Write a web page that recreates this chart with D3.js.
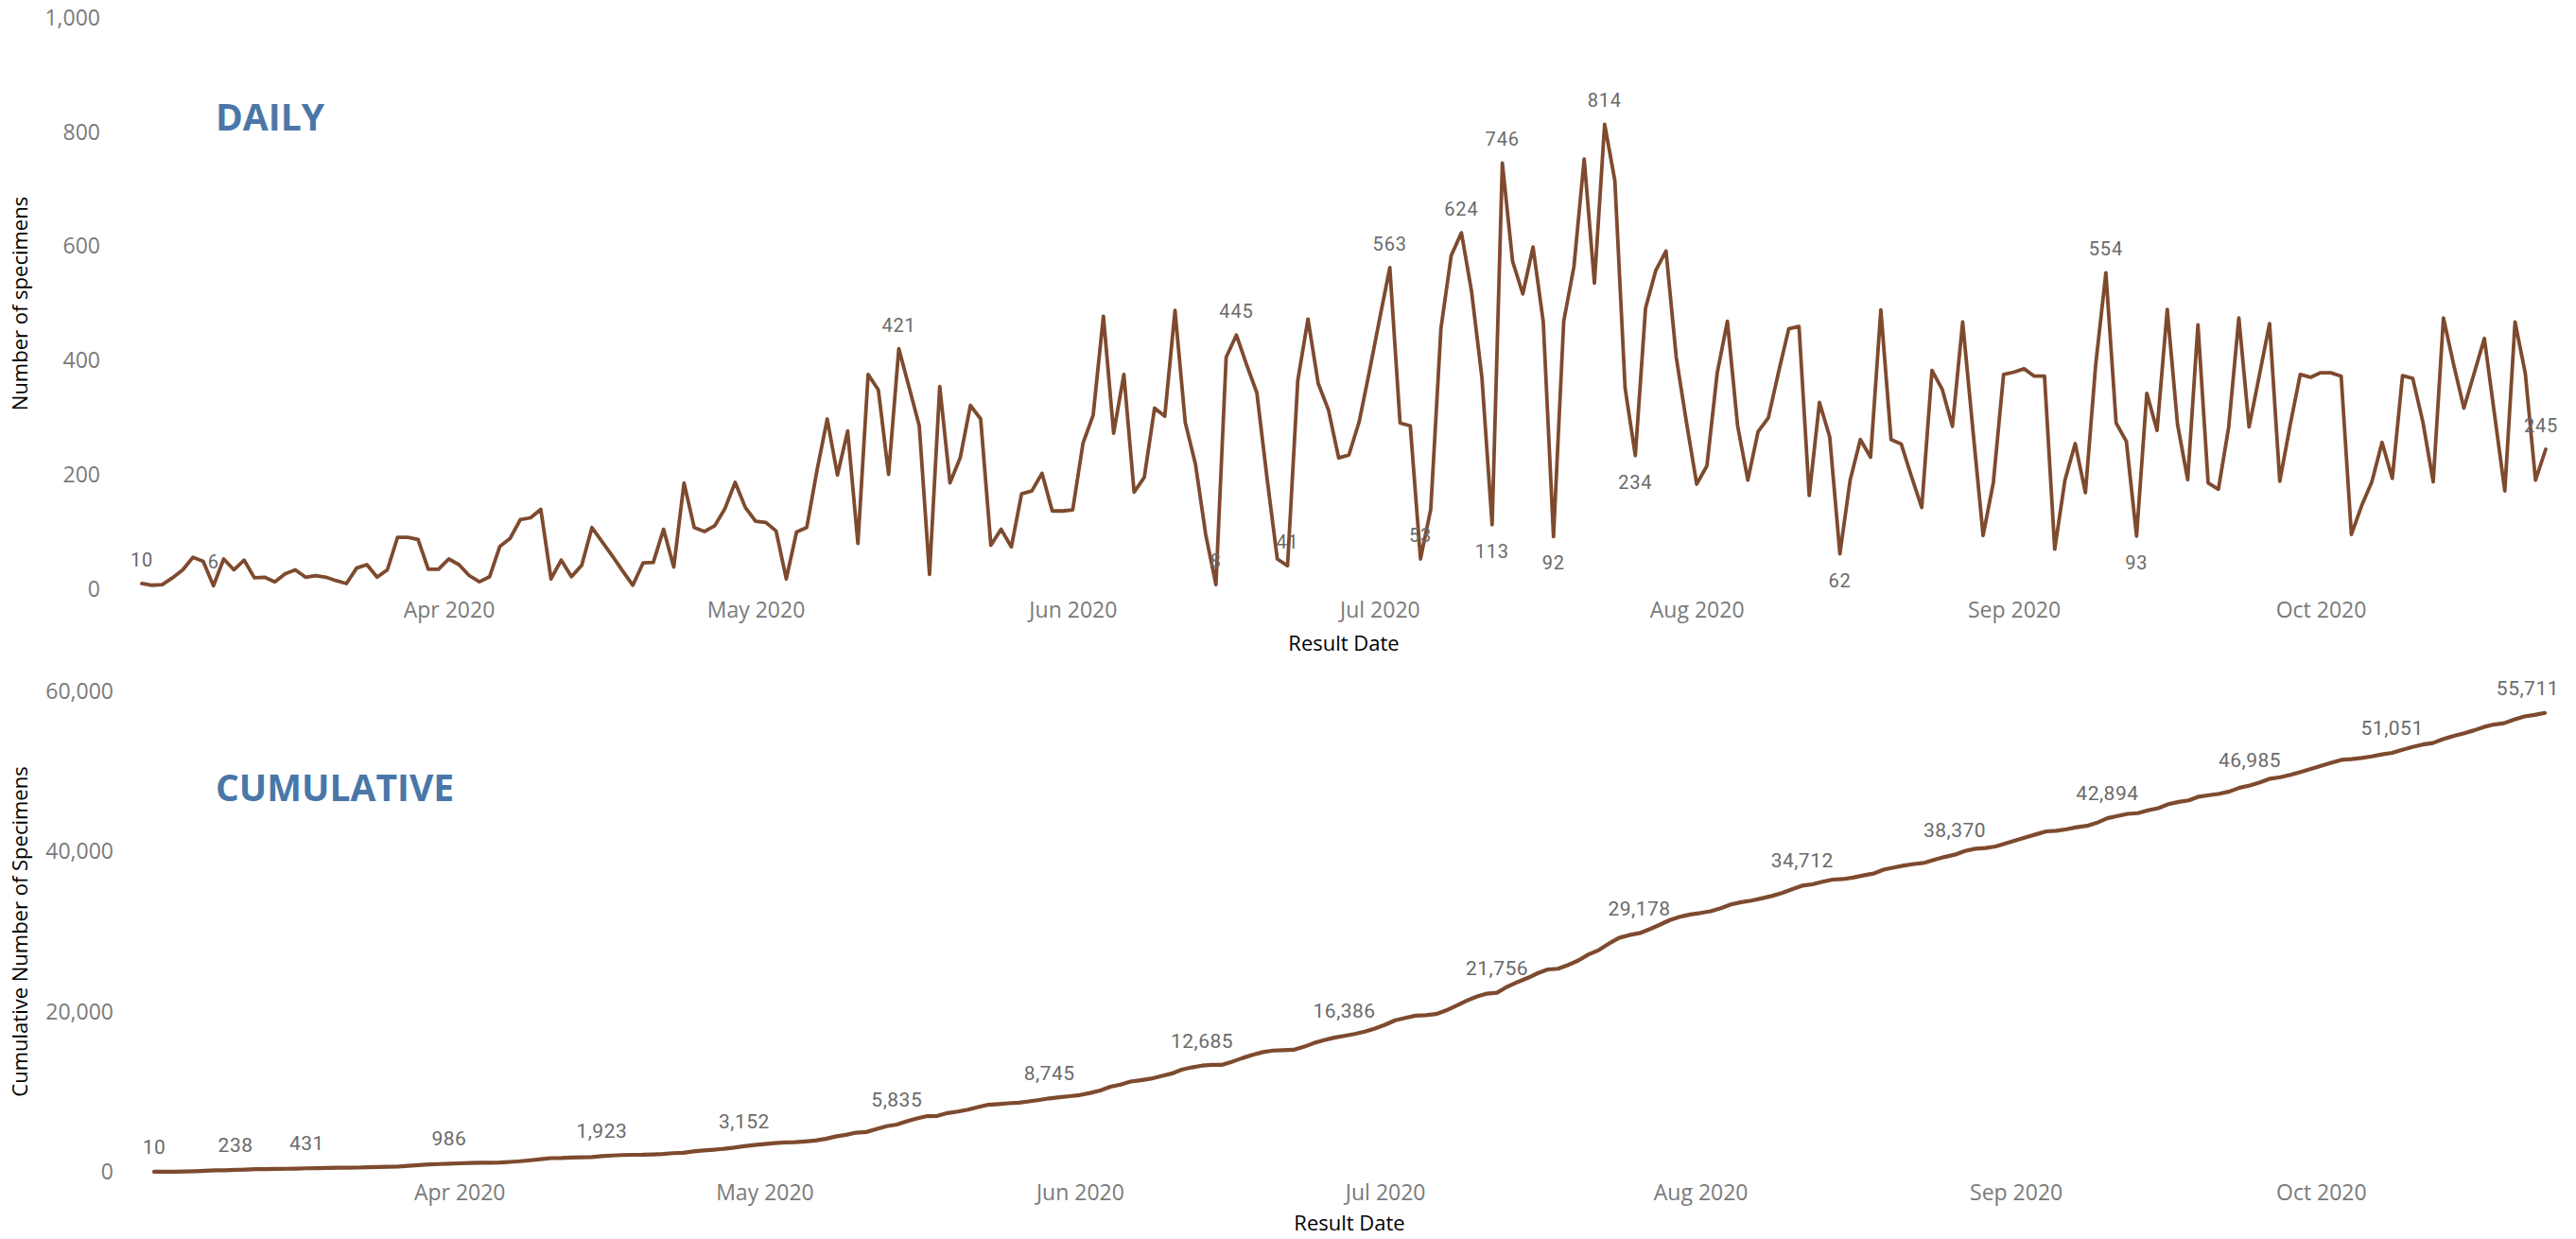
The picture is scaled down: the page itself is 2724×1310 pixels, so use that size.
<!DOCTYPE html>
<html><head><meta charset="utf-8">
<script src="https://cdn.jsdelivr.net/npm/d3@7"></script>
<style>html,body{margin:0;padding:0;background:#fff;} svg{display:block;}</style>
</head><body>
<svg id="chart" width="2724" height="1310"></svg>
<script>
// ---------- DATA ----------
const startDate = "2020-03-02";
const endDate = "2020-10-23";
// Daily number of specimens, one value per Result Date (Mar 2 .. Oct 23, 2020)
const daily = [
  10, 7, 8, 20, 34, 56, 49, 6, 53, 34,
  51, 20, 21, 13, 27, 34, 21, 24, 21, 15,
  10, 37, 43, 21, 34, 91, 91, 87, 35, 35,
  53, 43, 24, 13, 22, 75, 89, 122, 125, 140,
  18, 51, 22, 42, 108, 83, 58, 32, 7, 46,
  47, 105, 39, 186, 108, 101, 111, 141, 187, 143,
  119, 117, 102, 18, 100, 108, 208, 298, 200, 277,
  80, 376, 349, 201, 421, 354, 286, 26, 355, 186,
  230, 322, 298, 77, 105, 74, 167, 172, 203, 137,
  137, 139, 255, 305, 478, 273, 376, 170, 196, 317,
  303, 488, 292, 219, 96, 8, 406, 445, 393, 344,
  194, 53, 41, 365, 473, 360, 314, 230, 235, 293,
  381, 473, 563, 291, 286, 53, 140, 457, 584, 624,
  520, 371, 113, 746, 574, 517, 599, 468, 92, 469,
  565, 753, 536, 814, 715, 352, 234, 492, 558, 592,
  406, 292, 184, 216, 378, 469, 286, 191, 276, 300,
  380, 456, 460, 164, 327, 267, 62, 191, 262, 231,
  489, 262, 254, 197, 143, 383, 350, 285, 468, 279,
  94, 187, 376, 380, 386, 373, 373, 70, 191, 255,
  169, 392, 554, 291, 259, 93, 343, 278, 490, 289,
  192, 463, 186, 175, 283, 475, 284, 374, 465, 189,
  286, 376, 371, 379, 379, 373, 96, 146, 188, 257,
  194, 374, 369, 292, 188, 475, 393, 317, 378, 439,
  305, 172, 468, 378, 191, 245
];
const monthTicks = ["2020-04-01","2020-05-01","2020-06-01","2020-07-01","2020-08-01","2020-09-01","2020-10-01"];
const monthTickLabels = ["Apr 2020","May 2020","Jun 2020","Jul 2020","Aug 2020","Sep 2020","Oct 2020"];
const dailyYTicks = [0, 200, 400, 600, 800, 1000];
const cumYTicks = [0, 20000, 40000, 60000];
// data labels shown on the daily chart (dates) and where they sit
const dailyLabelDates = ["2020-03-02","2020-03-09","2020-05-15","2020-06-15","2020-06-17","2020-06-22","2020-07-02","2020-07-05","2020-07-09","2020-07-12","2020-07-13","2020-07-18","2020-07-23","2020-07-26","2020-08-15","2020-09-10","2020-09-13","2020-10-23"];
const dailyLabelSide = ["above","above","above","above","above","above","above","above","above","below","above","below","above","below","below","above","below","above"];
// data labels shown on the cumulative chart
const cumLabelDates = ["2020-03-02","2020-03-10","2020-03-17","2020-03-31","2020-04-15","2020-04-29","2020-05-14","2020-05-29","2020-06-13","2020-06-27","2020-07-12","2020-07-26","2020-08-11","2020-08-26","2020-09-10","2020-09-24","2020-10-08","2020-10-23"];
const cumLabelValues = [10, 238, 431, 986, 1923, 3152, 5835, 8745, 12685, 16386, 21756, 29178, 34712, 38370, 42894, 46985, 51051, 55711];

// ---------- CHART ----------
const parse = d3.utcParse("%Y-%m-%d");
const dates = d3.utcDay.range(parse(startDate), d3.utcDay.offset(parse(endDate), 1));
const dailyData = dates.map((d, i) => ({date: d, v: daily[i]}));
const cumValues = Array.from(d3.cumsum(daily));
const cumData = dates.map((d, i) => ({date: d, v: cumValues[i]}));
const fmt = d3.format(",");

const svg = d3.select("#chart");
const LINE = "#7e4a2e";
const TICK = "#7a7a7a";
const LABEL = "#6a6a6a";
const AXFONT = "'Open Sans', 'Noto Sans', sans-serif";
const LBLFONT = "Roboto, 'Noto Sans', sans-serif";

function panel(cfg) {
  const x = d3.scaleUtc().domain([dates[0], dates[dates.length - 1]]).range(cfg.xr);
  const y = d3.scaleLinear().domain(cfg.yd).range(cfg.yr);
  const g = svg.append("g");

  const ya = g.append("g").attr("transform", `translate(${cfg.yAxisX},0)`)
    .call(d3.axisLeft(y).tickValues(cfg.yTicks).tickFormat(fmt).tickSize(0).tickPadding(0));
  ya.select(".domain").remove();
  ya.selectAll("text").attr("fill", TICK).style("font-family", AXFONT).style("font-size", "23px");

  const xa = g.append("g").attr("transform", `translate(0,${cfg.xAxisY})`)
    .call(d3.axisBottom(x).tickValues(monthTicks.map(parse)).tickFormat((d, i) => monthTickLabels[i]).tickSize(0).tickPadding(0));
  xa.select(".domain").remove();
  xa.selectAll("text").attr("fill", TICK).style("font-family", AXFONT).style("font-size", "23px");

  g.append("text").attr("x", (cfg.xr[0] + cfg.xr[1]) / 2).attr("y", cfg.xTitleY)
    .attr("text-anchor", "middle").attr("fill", "#000")
    .style("font-family", AXFONT).style("font-size", "22px").text("Result Date");
  g.append("text").attr("transform", `translate(${cfg.yTitleX},${(cfg.yr[0] + cfg.yr[1]) / 2}) rotate(-90)`)
    .attr("text-anchor", "middle").attr("dominant-baseline", "central").attr("fill", "#000")
    .style("font-family", AXFONT).style("font-size", "22px").text(cfg.yTitle);

  g.append("text").attr("x", 228).attr("y", cfg.titleY).attr("fill", "#4a77a8")
    .style("font-family", AXFONT).style("font-size", "39px").style("font-weight", 700).text(cfg.title);

  g.append("path").datum(cfg.data)
    .attr("fill", "none").attr("stroke", LINE).attr("stroke-width", cfg.lw)
    .attr("stroke-linejoin", "round").attr("stroke-linecap", "round")
    .attr("d", d3.line().x(d => x(d.date)).y(d => y(d.v)));
  return {x, y, g};
}

// DAILY
const P1 = panel({
  xr: [150, 2692], yd: [0, 1000], yr: [623, 19], yAxisX: 106, yTicks: dailyYTicks,
  xAxisY: 637, xTitleY: 688, yTitleX: 20, yTitle: "Number of specimens",
  title: "DAILY", titleY: 138, data: dailyData, lw: 3.8
});
dailyLabelDates.forEach((ds, k) => {
  const dt = parse(ds);
  const i = d3.utcDay.count(dates[0], dt);
  const v = daily[i];
  const px = P1.x(dt);
  const py = P1.y(v) + (dailyLabelSide[k] === "above" ? -25 : 28);
  const t = P1.g.append("text").attr("y", py).attr("dominant-baseline", "central")
    .attr("fill", LABEL).style("font-family", LBLFONT).style("font-size", "20px")
    .style("letter-spacing", "0.8px").text(fmt(v));
  if (px > 2670) { t.attr("x", 2705).attr("text-anchor", "end"); }
  else { t.attr("x", px).attr("text-anchor", "middle"); }
});

// CUMULATIVE
const P2 = panel({
  xr: [163, 2691], yd: [0, 60000], yr: [1239, 731], yAxisX: 120, yTicks: cumYTicks,
  xAxisY: 1253, xTitleY: 1301, yTitleX: 20, yTitle: "Cumulative Number of Specimens",
  title: "CUMULATIVE", titleY: 847, data: cumData, lw: 4.2
});
cumLabelDates.forEach((ds, k) => {
  const dt = parse(ds);
  const i = d3.utcDay.count(dates[0], dt);
  const px = P2.x(dt);
  // sit the label just above the drawn line at that date
  const py = Math.min(P2.y(cumLabelValues[k]), P2.y(cumValues[i])) - 26;
  const t = P2.g.append("text").attr("y", py).attr("dominant-baseline", "central")
    .attr("fill", LABEL).style("font-family", LBLFONT).style("font-size", "21px")
    .style("letter-spacing", "0.5px").text(fmt(cumLabelValues[k]));
  if (px > 2650) { t.attr("x", 2706).attr("text-anchor", "end"); }
  else { t.attr("x", px).attr("text-anchor", "middle"); }
});
</script>
</body></html>
